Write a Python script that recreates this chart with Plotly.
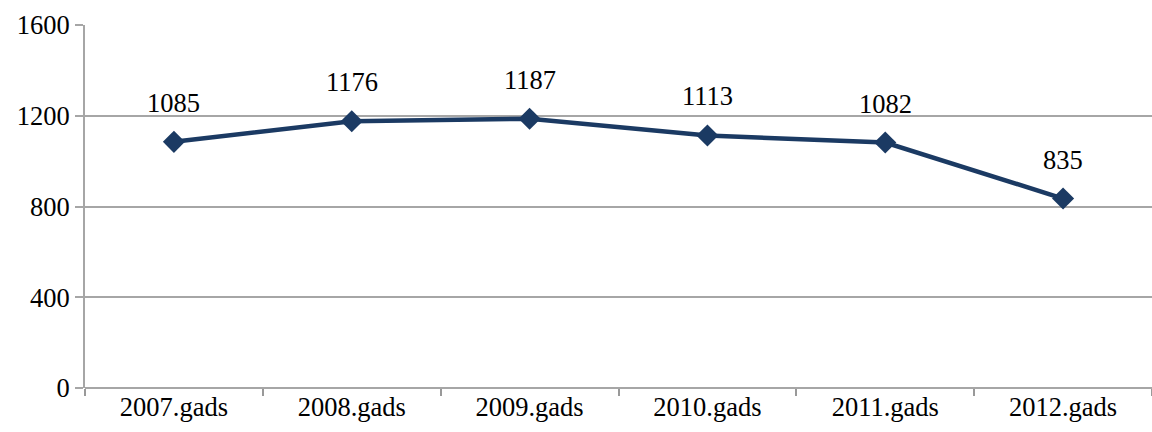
import plotly.graph_objects as go

categories = ["2007.gads", "2008.gads", "2009.gads", "2010.gads", "2011.gads", "2012.gads"]
values = [1085, 1176, 1187, 1113, 1082, 835]
y_ticks = [0, 400, 800, 1200, 1600]

font_family = "Liberation Serif"
line_color = "#1B3A63"

fig = go.Figure()
fig.add_trace(go.Scatter(
    x=categories, y=values, mode="lines+markers",
    line=dict(color=line_color, width=4.5),
    marker=dict(symbol="diamond", size=17, color=line_color),
    hoverinfo="skip", showlegend=False,
))
for c, v in zip(categories, values):
    fig.add_annotation(x=c, y=v, text=str(v), showarrow=False,
                       yanchor="middle", yshift=39,
                       font=dict(family=font_family, size=26.5, color="#000000"))

fig.update_layout(
    width=1152, height=432,
    margin=dict(l=85, r=0, t=25, b=44),
    paper_bgcolor="white", plot_bgcolor="white",
    font=dict(family=font_family, size=26.5, color="#000000"),
)
fig.update_xaxes(
    type="category", range=[-0.5, 5.5],
    showgrid=False, tickson="boundaries", ticks="outside", ticklen=7,
    tickcolor="#999999", tickwidth=2,
    showline=False, tickfont=dict(family=font_family, size=26.5),
)
fig.update_yaxes(
    range=[0, 1600], tickvals=y_ticks, ticktext=[str(t) for t in y_ticks],
    showgrid=True, gridcolor="#A6A6A6", gridwidth=2,
    ticks="outside", ticklen=8, tickcolor="#A6A6A6", tickwidth=2,
    showline=True, linecolor="#A6A6A6", linewidth=2,
    zeroline=True, zerolinecolor="#A6A6A6", zerolinewidth=2,
    tickfont=dict(family=font_family, size=26.5),
)
fig.write_html(
    "out.html",
    config={"displayModeBar": False},
    post_script="document.body.style.margin='0';document.body.style.overflow='hidden';",
)
